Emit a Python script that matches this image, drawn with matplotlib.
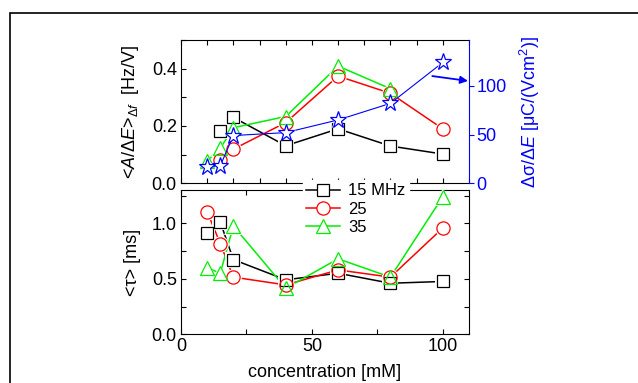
import matplotlib.pyplot as plt
from matplotlib.lines import Line2D
from matplotlib.patches import Rectangle
from matplotlib.ticker import MultipleLocator

plt.rcParams['font.family'] = ['Liberation Sans', 'DejaVu Sans']
plt.rcParams['mathtext.fontset'] = 'custom'
plt.rcParams['mathtext.rm'] = 'Liberation Sans'
plt.rcParams['mathtext.it'] = 'Liberation Sans:italic'
plt.rcParams['font.size'] = 13

# --- datos panel superior: <A/dE> [Hz/V] ---
conc_a_15 = [15, 20, 40, 60, 80, 100]
amp_15 = [0.184, 0.230, 0.131, 0.190, 0.130, 0.102]
conc_a_25 = [15, 20, 40, 60, 80, 100]
amp_25 = [0.081, 0.119, 0.212, 0.374, 0.314, 0.190]
conc_a_35 = [10, 15, 20, 40, 60, 80]
amp_35 = [0.078, 0.122, 0.194, 0.233, 0.409, 0.330]

# eje derecho: d(sigma)/dE [uC/(Vcm2)]
conc_sigma = [10, 15, 20, 40, 60, 80, 100]
sigma = [17, 18, 49, 52, 65, 82, 124]

# --- datos panel inferior: <tau> [ms] ---
conc_tau = [10, 15, 20, 40, 60, 80, 100]
tau_15 = [0.909, 1.012, 0.673, 0.491, 0.550, 0.460, 0.476]
tau_25 = [1.103, 0.818, 0.515, 0.445, 0.580, 0.515, 0.958]
tau_35 = [0.600, 0.550, 0.976, 0.415, 0.680, 0.515, 1.240]

etiquetas = ['15 MHz', '25', '35']
colores = ['black', '#ff0000', '#00ee00']
marcadores = ['s', 'o', '^']
tamanos = [8.5, 9.5, 10.5]

W, H = 638, 383


def serie(ax, x, y, color, marker, ms, lw=1.1):
    """Linea con hueco alrededor de los marcadores huecos (estilo Origin)."""
    ax.plot(x, y, '-', color=color, lw=lw, zorder=2)
    ax.plot(x, y, ls='none', marker=marker, ms=ms + 2.5, mfc='white',
            mec='white', mew=0, zorder=3)
    ax.plot(x, y, ls='none', marker=marker, ms=ms, mfc='none', mec=color,
            mew=0.9, zorder=4)


fig = plt.figure(figsize=(W / 100, H / 100), dpi=100)

izq, ancho = 181 / W, 288 / W
ax1 = fig.add_axes([izq, 1 - 183.3 / H, ancho, 143.3 / H])
ax3 = fig.add_axes([izq, 1 - 334.3 / H, ancho, 144.3 / H])

# panel superior
for x, y, c, m, s in zip([conc_a_15, conc_a_25, conc_a_35],
                         [amp_15, amp_25, amp_35], colores, marcadores, tamanos):
    serie(ax1, x, y, c, m, s)

ax1.set_xlim(0, 110)
ax1.set_ylim(0, 0.5)
ax1.xaxis.set_major_locator(MultipleLocator(10))
ax1.yaxis.set_minor_locator(MultipleLocator(0.1))
ax1.set_yticks([0, 0.2, 0.4])
ax1.set_yticklabels(['0.0', '0.2', '0.4'])
ax1.tick_params(which='both', direction='in', top=True, right=False,
                labelbottom=False, length=3.5, width=0.8, pad=3)
ax1.spines['right'].set_visible(False)
ax1.set_ylabel(r'<$A$/Δ$E$>$_{Δ f}$  [Hz/V]', labelpad=8)

ax2 = ax1.twinx()
serie(ax2, conc_sigma, sigma, '#0000ff', '*', 12.5, lw=0.8)
ax2.set_ylim(0, 147)
ax2.yaxis.set_major_locator(MultipleLocator(50))
ax2.tick_params(axis='y', direction='out', colors='#0000ff', length=3.5,
                width=0.8, pad=2)
for lado in ['left', 'top', 'bottom']:
    ax2.spines[lado].set_visible(False)
ax2.spines['right'].set_color('#0000ff')
ax2.set_ylabel(r'Δσ/Δ$E$ [μC/(Vcm$^2$)]', color='#0000ff', labelpad=8)
ax2.annotate('', xy=(109.6, 105), xytext=(96, 110),
             arrowprops=dict(arrowstyle='-|>', color='#0000ff', lw=1.3,
                             mutation_scale=11, shrinkA=0, shrinkB=0),
             annotation_clip=False)

# panel inferior
for y, c, m, s in zip([tau_15, tau_25, tau_35], colores, marcadores, tamanos):
    serie(ax3, conc_tau, y, c, m, s)

ax3.set_xlim(0, 110)
ax3.set_ylim(0, 1.3)
ax3.xaxis.set_minor_locator(MultipleLocator(25))
ax3.yaxis.set_minor_locator(MultipleLocator(0.25))
ax3.set_xticks([0, 50, 100])
ax3.set_xticklabels(['0', '50', '100'])
ax3.set_yticks([0, 0.5, 1.0])
ax3.set_yticklabels(['0.0', '0.5', '1.0'])
ax3.tick_params(which='both', direction='in', top=True, right=True,
                length=3.5, width=0.8, pad=3)
ax3.set_ylabel('<τ> [ms]', labelpad=8)
ax3.set_xlabel('concentration [mM]', labelpad=6)

for ax in (ax1, ax3):
    for sp in ax.spines.values():
        sp.set_linewidth(0.8)

# leyenda entre los dos paneles
manejadores = [Line2D([], [], color=c, marker=m, ms=s, mfc='white', mec=c,
                      mew=0.9, lw=1.1)
               for c, m, s in zip(colores, marcadores, tamanos)]
fig.legend(manejadores, etiquetas, loc='upper left',
           bbox_to_anchor=(303 / W, 1 - 180 / H), fontsize=12,
           frameon=True, facecolor='white', edgecolor='white', framealpha=1,
           fancybox=False, borderpad=0.2, borderaxespad=0, handlelength=2.0,
           handletextpad=0.5, labelspacing=0.2)

# marco exterior (recortado por el borde de la figura)
fig.add_artist(Rectangle((10 / W, -0.5), 2, 0.5 + 1 - 12.5 / H,
                         transform=fig.transFigure, fill=False, lw=1.2,
                         ec='black'))

fig.savefig('out.png', dpi=100)
